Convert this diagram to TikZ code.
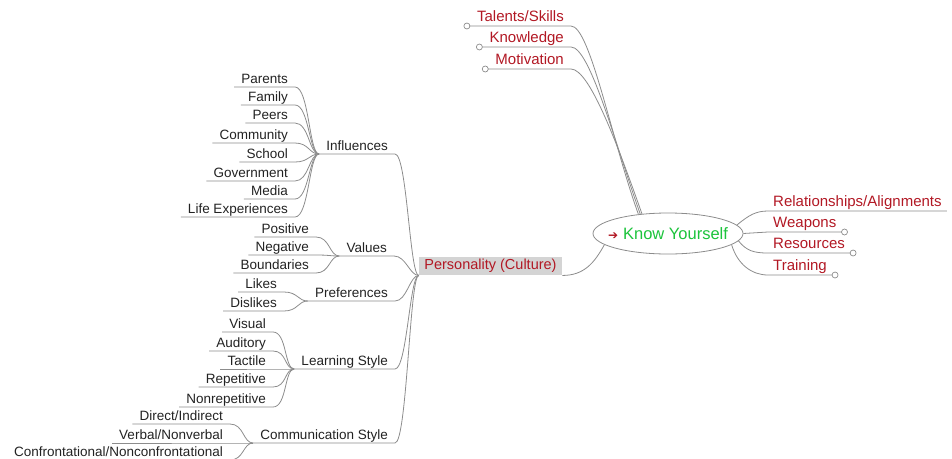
\documentclass[tikz,border=0pt]{standalone}
\usepackage{fontspec}
\setmainfont{Liberation Sans}
\newfontfamily\symfont{DejaVu Sans}
\usepackage{tikz}
\usetikzlibrary{shapes.geometric}
\definecolor{kyred}{RGB}{178,24,36}
\definecolor{kygreen}{RGB}{28,196,60}
\definecolor{linegray}{RGB}{140,140,140}
\definecolor{boxgray}{RGB}{212,212,212}
\definecolor{leaftext}{RGB}{34,34,34}
\tikzstyle{link} = [draw=linegray, line width=0.8pt]
\tikzstyle{leaf} = [font=\fontsize{13.5}{15}\selectfont, text=leaftext, inner xsep=7pt, inner ysep=0.5pt, text height=9.5pt, text depth=2.5pt, anchor=south east]
\tikzstyle{topic} = [font=\fontsize{15}{17}\selectfont, text=kyred, inner ysep=1pt, text height=11pt, text depth=3pt]
\tikzstyle{endcircle} = [draw=linegray, fill=white, line width=0.7pt]

\begin{document}
\begin{tikzpicture}[x=1pt, y=-1pt]
\useasboundingbox (0,0) rectangle (952,458);

% Centre
\node[ellipse, draw=linegray, fill=white, line width=0.8pt, minimum width=150pt, minimum height=41pt, inner sep=0pt] (ky) at (668,233.5) {};
\node[font=\fontsize{16.5}{18}\selectfont, text=kygreen, inner sep=0pt] (kytext) at (ky.center) {\textcolor{kyred}{\symfont\fontsize{12}{12}\selectfont ➔}\hspace{5pt}Know Yourself};
\node[fill=boxgray, text=kyred, font=\fontsize{14.5}{16}\selectfont, inner xsep=5.5pt, inner ysep=2.5pt, text height=10.5pt, text depth=3pt] (pers) at (490.5,266) {Personality (Culture)};
\draw[link] (pers.south east) .. controls +(22,0) and +(-10,18) .. (ky.190);

% Top branches
\node[topic, inner xsep=7pt, anchor=south east] (tal) at (571,26) {Talents/Skills};
\node[topic, inner xsep=7pt, anchor=south east] (kno) at (571,47) {Knowledge};
\node[topic, inner xsep=7pt, anchor=south east] (mot) at (571,69) {Motivation};
\draw[link] (tal.south west) -- (tal.south east) .. controls +(19,0) and +(-27,-75) .. (ky.147);
\draw[link] (kno.south west) -- (kno.south east) .. controls +(19,0) and +(-25,-70) .. (ky.145);
\draw[link] (mot.south west) -- (mot.south east) .. controls +(19,0) and +(-23,-65) .. (ky.143);
\foreach \n in {tal,kno,mot}
    \draw[endcircle] (\n.south west) ++(-3,0) circle (3pt);

% Right branches
\node[topic, inner xsep=5pt, anchor=south west] (rel) at (768,211) {Relationships/Alignments};
\node[topic, inner xsep=5pt, anchor=south west] (weap) at (768,232) {Weapons};
\node[topic, inner xsep=5pt, anchor=south west] (res) at (768,253) {Resources};
\node[topic, inner xsep=5pt, anchor=south west] (train) at (768,275) {Training};
\draw[link] (ky.7) .. controls +(12,-10) and +(-12,0) .. (rel.south west) -- (rel.south east);
\draw[link] (ky.east) -- (weap.south west) -- (weap.south east);
\draw[link] (ky.-6) .. controls +(8,10) and +(-14,0) .. (res.south west) -- (res.south east);
\draw[link] (ky.-10) .. controls +(6,20) and +(-16,0) .. (train.south west) -- (train.south east);
\foreach \n in {weap,res,train}
    \draw[endcircle] (\n.south east) ++(3,0) circle (3pt);

% Personality groups
\node[leaf] (infl) at (395,154) {Influences};
\node[leaf] (val) at (394,256) {Values};
\node[leaf] (pref) at (395,301) {Preferences};
\node[leaf] (learn) at (395,369) {Learning Style};
\node[leaf] (comm) at (395,443) {Communication Style};
\foreach \n in {infl,val,pref,learn,comm}
    \draw[link] (\n.south west) -- (\n.south east) .. controls +(12,0) and +(-9,0) .. (pers.south west);

% Leaves
\foreach \n/\t/\y in {par/Parents/87, fam/Family/105, peer/Peers/123, comty/Community/143, sch/School/162, gov/Government/181, med/Media/199, life/Life Experiences/217} {
    \node[leaf] (\n) at (295,\y) {\t};
    \draw[link] (\n.south west) -- (\n.south east) .. controls +(14,0) and +(-10,0) .. (infl.south west);
}
\foreach \n/\t/\y in {pos/Positive/237, neg/Negative/255, bnd/Boundaries/273} {
    \node[leaf] (\n) at (316,\y) {\t};
    \draw[link] (\n.south west) -- (\n.south east) .. controls +(14,0) and +(-10,0) .. (val.south west);
}
\foreach \n/\t/\y in {like/Likes/292, dislike/Dislikes/311} {
    \node[leaf] (\n) at (284,\y) {\t};
    \draw[link] (\n.south west) -- (\n.south east) .. controls +(14,0) and +(-10,0) .. (pref.south west);
}
\foreach \n/\t/\y in {vis/Visual/332, aud/Auditory/351, tac/Tactile/369, rep/Repetitive/387, nrep/Nonrepetitive/407} {
    \node[leaf] (\n) at (273,\y) {\t};
    \draw[link] (\n.south west) -- (\n.south east) .. controls +(14,0) and +(-10,0) .. (learn.south west);
}
\node[leaf] (dir) at (230,424) {Direct/Indirect};
\node[leaf] (verb) at (230,443) {Verbal/Nonverbal};
\node[leaf] (conf) at (230,460) {Confrontational/Nonconfrontational};
\foreach \n in {dir,verb,conf}
    \draw[link] (\n.south west) -- (\n.south east) .. controls +(14,0) and +(-10,0) .. (comm.south west);
\end{tikzpicture}
\end{document}
